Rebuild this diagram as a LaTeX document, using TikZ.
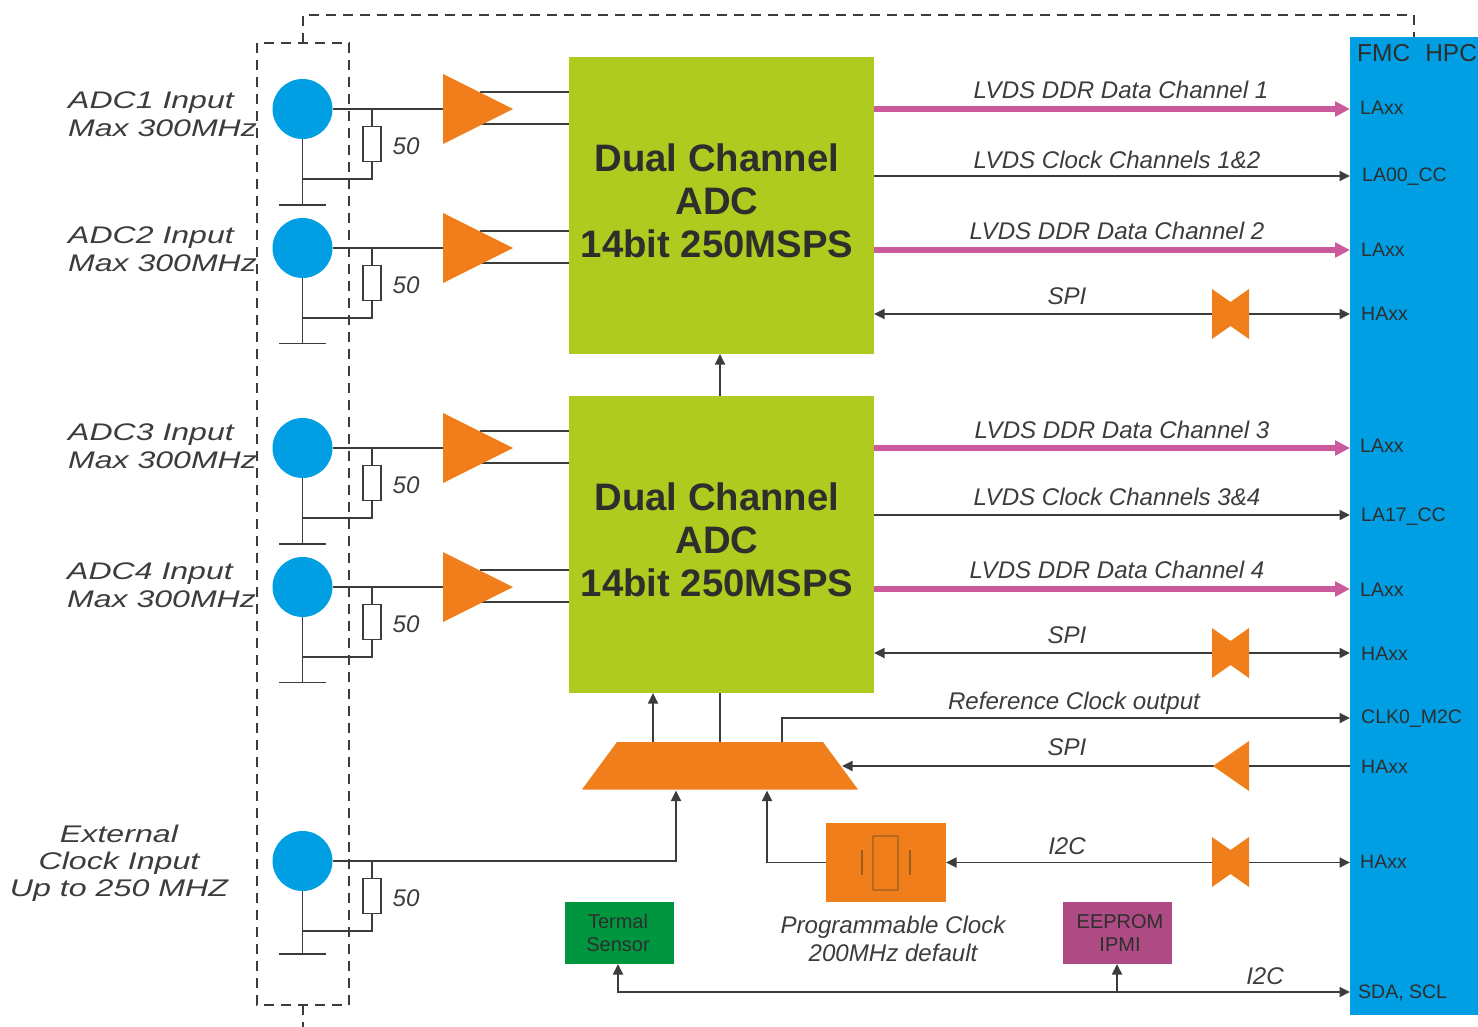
\documentclass[tikz,border=0pt]{standalone}
\usepackage{fontspec}
\usepackage{graphicx}
\setmainfont{Liberation Sans}
\usetikzlibrary{arrows.meta}
\definecolor{fmcblue}{HTML}{009FE3}
\definecolor{amporange}{HTML}{F07F1B}
\definecolor{adcgreen}{HTML}{AFCB1F}
\definecolor{datapink}{HTML}{CB5A9C}
\definecolor{ink}{HTML}{3C3C3B}
\definecolor{texink}{HTML}{2E2E2D}
\definecolor{thermgreen}{HTML}{009640}
\definecolor{eeprompurple}{HTML}{AE4A84}
\definecolor{xtal}{HTML}{9A5F1E}
\tikzset{
  x=1pt,y=-1pt,
  wire/.style={draw=ink,line width=1.8pt},
  sig/.style={wire,-{Triangle[length=10.5pt,width=10pt]}},
  bisig/.style={wire,{Triangle[length=10.5pt,width=10pt]}-{Triangle[length=10.5pt,width=10pt]}},
  dataline/.style={draw=datapink,line width=5.5pt,-{Triangle[length=15pt,width=14.5pt,fill=datapink]}},
  dashframe/.style={draw=ink,line width=1.8pt,dash pattern=on 10pt off 7pt},
  blockbox/.style={rectangle,inner sep=0pt,line width=0pt},
  portdisc/.style={circle,fill=fmcblue,inner sep=0pt,minimum size=60pt},
  resistor/.style={rectangle,draw=ink,line width=1.8pt,fill=white,inner sep=0pt,minimum width=18pt,minimum height=35pt},
  txt/.style={anchor=base,inner sep=0pt,text=ink,font=\fontsize{24.1}{28}\selectfont\itshape},
  txtw/.style={anchor=base west,inner sep=0pt,text=ink,font=\fontsize{24}{28}\selectfont\itshape},
  pinlabel/.style={anchor=base west,inner sep=0pt,text=texink,font=\fontsize{19.5}{23}\selectfont},
  adctitle/.style={anchor=base,inner sep=0pt,text=texink,font=\fontsize{38.3}{44}\selectfont\bfseries},
  boxlabel/.style={anchor=base,inner sep=0pt,text=texink,font=\fontsize{20}{24}\selectfont},
}
% id, line y, ground offset : socket, ground, 50 ohm resistor
\newcommand{\inblock}[3]{%
  \node[portdisc] (c#1) at (302.5,#2) {};
  \node[resistor] (r#1) at (372,#2+35) {};
  \coordinate (j#1) at (372,#2);
  \coordinate (k#1) at (302.5,#2+70);
  \coordinate (g#1) at (302.5,#2+#3);
  \coordinate (gl#1) at (279,#2+#3);
  \coordinate (gr#1) at (326,#2+#3);
  \draw[wire] (c#1.south) -- (g#1);
  \draw[wire] (gl#1) -- (gr#1);
  \draw[wire] (j#1) -- (r#1.north);
  \draw[wire] (r#1.south) -- (r#1.south |- k#1) -- (k#1);
  \node[txt] (ohm#1) at (406,#2+45.5) {50};
}
% id, y : amplifier feeding block #3
\newcommand{\ampl}[3]{%
  \coordinate (a#1) at (443,#2);
  \draw[wire] (c#1.east) -- (a#1);
  \draw[wire] (480,#2-17) -- (#3.west |- 0,#2-17);
  \draw[wire] (480,#2+15) -- (#3.west |- 0,#2+15);
  \fill[amporange] (443,#2-35) -- (513,#2) -- (443,#2+35) -- cycle;
}
\newcommand{\bowshape}[2]{%
  \fill[amporange] (#1-18.5,#2-25) -- (#1,#2-12) -- (#1+18.5,#2-25) -- (#1+18.5,#2+25) -- (#1,#2+12) -- (#1-18.5,#2+25) -- cycle;
}
\newcommand{\stretched}[1]{\scalebox{1.335}[1]{#1}}
\begin{document}
\begin{tikzpicture}
\useasboundingbox (0,0) rectangle (1478,1027);
% main blocks
\node[blockbox,fill=fmcblue,minimum width=128pt,minimum height=978pt] (fmc) at (1414,526) {};
\node[blockbox,fill=adcgreen,minimum width=305pt,minimum height=297pt] (adcA) at (721.5,205.5) {};
\node[blockbox,fill=adcgreen,minimum width=305pt,minimum height=297pt] (adcB) at (721.5,544.5) {};
\node[blockbox,fill=amporange,minimum width=120pt,minimum height=79pt] (clk) at (886,862.5) {};
\node[blockbox,fill=thermgreen,minimum width=109pt,minimum height=62pt] (therm) at (619.5,933) {};
\node[blockbox,fill=eeprompurple,minimum width=109pt,minimum height=62pt] (eeprom) at (1117.5,933) {};
% dashed frames
\coordinate (fa) at (257,43); \coordinate (fb) at (349,1005);
\draw[dashframe] (fa) rectangle (fb);
\coordinate (ta) at (303,43); \coordinate (tb) at (303,15); \coordinate (tc) at (1414,15); \coordinate (td) at (1414,37);
\draw[dashframe] (ta) -- (tb) -- (tc) -- (td);
\coordinate (ba) at (303,1005); \coordinate (bb) at (303,1027);
\draw[dashframe] (ba) -- (bb);
% inputs
\inblock{1}{109}{96}\inblock{2}{248}{95.5}\inblock{3}{448}{96}\inblock{4}{587}{95.5}\inblock{5}{861}{93}
\ampl{1}{109}{adcA}\ampl{2}{248}{adcA}\ampl{3}{448}{adcB}\ampl{4}{587}{adcB}
% ADC titles
\node[adctitle] (tA1) at (717,171.5) {Dual Channel};
\node[adctitle] (tA2) at (717,214.5) {ADC};
\node[adctitle] (tA3) at (717,257.5) {14bit 250MSPS};
\node[adctitle] (tB1) at (717,510) {Dual Channel};
\node[adctitle] (tB2) at (717,553) {ADC};
\node[adctitle] (tB3) at (717,596) {14bit 250MSPS};
% outputs
\draw[dataline] (adcA.east |- 0,109) -- (fmc.west |- 0,109);
\draw[sig] (adcA.east |- 0,176) -- (fmc.west |- 0,176);
\draw[dataline] (adcA.east |- 0,250) -- (fmc.west |- 0,250);
\draw[bisig] (adcA.east |- 0,314) -- (fmc.west |- 0,314);
\bowshape{1230.5}{314}
\draw[dataline] (adcB.east |- 0,448) -- (fmc.west |- 0,448);
\draw[sig] (adcB.east |- 0,515) -- (fmc.west |- 0,515);
\draw[dataline] (adcB.east |- 0,589) -- (fmc.west |- 0,589);
\draw[bisig] (adcB.east |- 0,653) -- (fmc.west |- 0,653);
\bowshape{1230.5}{653}
\draw[sig] (adcB.north -| 720,0) -- (adcA.south -| 720,0);
% multiplexer
\coordinate (muxtl) at (617,742); \coordinate (muxtr) at (823,742);
\coordinate (muxbr) at (858,789.5); \coordinate (muxbl) at (582,789.5);
\coordinate (muxin) at (842,766);
\fill[amporange] (muxtl) -- (muxtr) -- (muxbr) -- (muxbl) -- cycle;
\draw[sig] (653,742) -- (adcB.south -| 653,0);
\draw[wire] (720,742) -- (adcB.south -| 720,0);
\draw[sig] (782,742) -- (782,718) -- (fmc.west |- 0,718);
\draw[sig] (fmc.west |- 0,766) -- (muxin);
\fill[amporange] (1249,741) -- (1249,791) -- (1213,766) -- cycle;
\draw[sig] (c5.east) -- (676,861) -- (676,790.5);
\draw[sig] (clk.west) -- (767,862.5) -- (767,790.5);
\draw[bisig] (clk.east) -- (fmc.west |- clk.east);
\bowshape{1230.5}{862}
% crystal
\draw[draw=xtal,line width=1.2pt,rounded corners=0.5pt] (873,836) rectangle (898,890);
\draw[draw=xtal,line width=1.2pt] (862,850) -- (862,875) (910,850) -- (910,875);
% I2C bus
\draw[bisig] (therm.south -| 618,0) -- (618,992) -- (fmc.west |- 0,992);
\draw[sig] (1117,992) -- (eeprom.south -| 1117,0);
% left labels
\node[txtw] (l1a) at (68,108.5) {\stretched{ADC1 Input}};
\node[txtw] (l1b) at (68,136.5) {\stretched{Max 300MHz}};
\node[txtw] (l2a) at (68,243.5) {\stretched{ADC2 Input}};
\node[txtw] (l2b) at (68,271.5) {\stretched{Max 300MHz}};
\node[txtw] (l3a) at (68,440.5) {\stretched{ADC3 Input}};
\node[txtw] (l3b) at (68,468.5) {\stretched{Max 300MHz}};
\node[txtw] (l4a) at (67,579.5) {\stretched{ADC4 Input}};
\node[txtw] (l4b) at (67,607.5) {\stretched{Max 300MHz}};
\node[txt] (l5a) at (119,842) {\stretched{External}};
\node[txt] (l5b) at (119,869) {\stretched{Clock Input}};
\node[txt] (l5c) at (119,896) {\stretched{Up to 250 MHZ}};
% connector labels
\node[txt] (s1) at (1121,99) {LVDS DDR Data Channel 1};
\node[txt] (s2) at (1117,169) {LVDS Clock Channels 1\&2};
\node[txt] (s3) at (1117,240) {LVDS DDR Data Channel 2};
\node[txt] (s4) at (1067,304) {SPI};
\node[txt] (s5) at (1122,438) {LVDS DDR Data Channel 3};
\node[txt] (s6) at (1117,505) {LVDS Clock Channels 3\&4};
\node[txt] (s7) at (1117,578) {LVDS DDR Data Channel 4};
\node[txt] (s8) at (1067,643) {SPI};
\node[txt] (s9) at (1074,709) {Reference Clock output};
\node[txt] (s10) at (1067,755) {SPI};
\node[txt] (s11) at (1067,854) {I2C};
\node[txt] (s12) at (1265,984) {I2C};
\node[txt] (s13) at (893,933) {Programmable Clock};
\node[txt] (s14) at (893,961) {200MHz default};
% box labels
\node[boxlabel] (b1) at (618,928) {Termal};
\node[boxlabel] (b2) at (618,951) {Sensor};
\node[boxlabel] (b3) at (1120,928) {EEPROM};
\node[boxlabel] (b4) at (1120,951) {IPMI};
% FMC pins
\node[pinlabel,font=\fontsize{24.5}{28}\selectfont] (p0) at (1357,62) {FMC\hspace{15pt}HPC};
\node[pinlabel] (p1) at (1360,115) {LAxx};
\node[pinlabel] (p2) at (1362,182) {LA00\_CC};
\node[pinlabel] (p3) at (1361,256) {LAxx};
\node[pinlabel] (p4) at (1361,320) {HAxx};
\node[pinlabel] (p5) at (1360,452) {LAxx};
\node[pinlabel] (p6) at (1361,521) {LA17\_CC};
\node[pinlabel] (p7) at (1360,596) {LAxx};
\node[pinlabel] (p8) at (1361,660) {HAxx};
\node[pinlabel] (p9) at (1361,723) {CLK0\_M2C};
\node[pinlabel] (p10) at (1361,773) {HAxx};
\node[pinlabel] (p11) at (1360,868) {HAxx};
\node[pinlabel] (p12) at (1358,998) {SDA, SCL};
\end{tikzpicture}
\end{document}
